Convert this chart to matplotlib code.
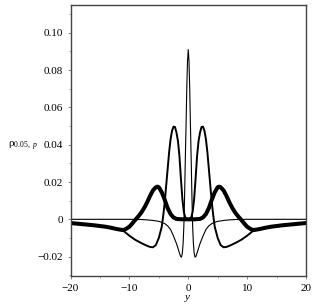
import matplotlib
matplotlib.use("Agg")
import matplotlib.pyplot as plt
from matplotlib.ticker import FixedLocator, FixedFormatter

# ---- data ----
y_spike = [-20, -18, -16, -14, -12, -10, -9, -8, -7, -6, -5, -4.5, -4, -3.5, -3, -2.5, -2,
           -1.75, -1.5, -1.3, -1.15, -1.0, -0.875, -0.75, -0.625, -0.5, -0.375, -0.25, -0.125, 0,
           0.125, 0.25, 0.375, 0.5, 0.625, 0.75, 0.875, 1.0, 1.15, 1.3, 1.5, 1.75,
           2, 2.5, 3, 3.5, 4, 4.5, 5, 6, 7, 8, 9, 10, 12, 14, 16, 18, 20]
v_spike = [0, 0, 0, 0, 0, 0, -0.0001, -0.0001, -0.0003, -0.0006, -0.0011, -0.0016, -0.0023, -0.0035,
           -0.0055, -0.009, -0.013, -0.0155, -0.018, -0.0199, -0.0203, -0.018, -0.013, -0.004, 0.012,
           0.032, 0.050, 0.070, 0.085, 0.091,
           0.085, 0.070, 0.050, 0.032, 0.012, -0.004, -0.013, -0.018, -0.0203, -0.0199, -0.018, -0.0155,
           -0.013, -0.009, -0.0055, -0.0035, -0.0023, -0.0016, -0.0011, -0.0006, -0.0003, -0.0001,
           -0.0001, 0, 0, 0, 0, 0, 0]

y_mid = [-20, -18, -16, -14, -12, -11, -10, -9, -8, -7, -6.5, -6, -5.5, -5, -4.5, -4.25, -4,
         -3.75, -3.5, -3.25, -3, -2.75, -2.5, -2.25, -2, -1.75, -1.5, -1.25, -1, -0.75, -0.5, -0.25, 0,
         0.25, 0.5, 0.75, 1, 1.25, 1.5, 1.75, 2, 2.25, 2.5, 2.75, 3, 3.25, 3.5, 3.75, 4, 4.25, 4.5,
         5, 5.5, 6, 6.5, 7, 8, 9, 10, 11, 12, 14, 16, 18, 20]
v_mid = [-0.0022, -0.0028, -0.0034, -0.0042, -0.0053, -0.0062, -0.0088, -0.011, -0.0127, -0.0142,
         -0.0148, -0.015, -0.0138, -0.010, -0.004, 0.002, 0.009, 0.018, 0.027, 0.036, 0.043, 0.0475,
         0.0497, 0.0495, 0.0465, 0.042, 0.034, 0.022, 0.011, 0.004, 0.001, 0.0002, 0.0,
         0.0002, 0.001, 0.004, 0.011, 0.022, 0.034, 0.042, 0.0465, 0.0495, 0.0497, 0.0475, 0.043,
         0.036, 0.027, 0.018, 0.009, 0.002, -0.004, -0.010, -0.0138, -0.015, -0.0148, -0.0142,
         -0.0127, -0.011, -0.0088, -0.0062, -0.0053, -0.0042, -0.0034, -0.0028, -0.0022]

y_thick = [-20, -18, -16, -14, -13, -12, -11, -10.5, -10, -9.5, -9, -8.5, -8, -7.5, -7, -6.5, -6,
           -5.5, -5.25, -5, -4.5, -4, -3.5, -3, -2.5, -2, -1, 0, 1, 2, 2.5, 3, 3.5, 4, 4.5, 5,
           5.25, 5.5, 6, 6.5, 7, 7.5, 8, 8.5, 9, 9.5, 10, 10.5, 11, 12, 13, 14, 16, 18, 20]
v_thick = [-0.002, -0.0026, -0.0032, -0.004, -0.0046, -0.0053, -0.0058, -0.005, -0.004, -0.0022,
           -0.0003, 0.0015, 0.0035, 0.006, 0.009, 0.0125, 0.0155, 0.0172, 0.0175, 0.0172, 0.0145,
           0.0105, 0.006, 0.0028, 0.001, 0.0002, 0.0, 0.0, 0.0, 0.0002, 0.001, 0.0028, 0.006,
           0.0105, 0.0145, 0.0172, 0.0175, 0.0172, 0.0155, 0.0125, 0.009, 0.006, 0.0035, 0.0015,
           -0.0003, -0.0022, -0.004, -0.005, -0.0058, -0.0053, -0.0046, -0.004, -0.0032, -0.0026,
           -0.002]

x_ticks = [-20, -10, 0, 10, 20]
x_labels = ["\u221220", "\u221210", "0", "10", "20"]
y_ticks = [-0.02, 0, 0.02, 0.04, 0.06, 0.08, 0.10]
y_labels = ["\u22120.02", "0", "0.02", "0.04", "0.06", "0.08", "0.10"]

plt.rcParams['font.family'] = ['Liberation Serif', 'DejaVu Serif']
plt.rcParams['mathtext.fontset'] = 'custom'
plt.rcParams['mathtext.rm'] = 'Liberation Serif'
plt.rcParams['mathtext.it'] = 'Liberation Serif:italic'

fig = plt.figure(figsize=(3.16, 3.07), dpi=100)
ax = fig.add_axes([70.5 / 316, 1 - 276 / 307, (306 - 70.5) / 316, (276 - 4.5) / 307])

ax.plot(y_spike, v_spike, color='black', lw=0.8)
ax.plot(y_mid, v_mid, color='black', lw=1.4)
ax.plot(y_thick, v_thick, color='black', lw=2.9)

ax.set_xlim(-20, 20)
ax.set_ylim(-0.0304, 0.1152)

ax.xaxis.set_major_locator(FixedLocator(x_ticks))
ax.xaxis.set_major_formatter(FixedFormatter(x_labels))
ax.yaxis.set_major_locator(FixedLocator(y_ticks))
ax.yaxis.set_major_formatter(FixedFormatter(y_labels))
ax.xaxis.set_minor_locator(FixedLocator([-15, -5, 5, 15]))
ax.yaxis.set_minor_locator(FixedLocator([-0.03, -0.01, 0.01, 0.03, 0.05, 0.07, 0.09, 0.11]))

ax.tick_params(which='major', direction='out', length=2.5, width=0.6, color='#777777',
               labelsize=8, pad=3)
ax.tick_params(which='minor', direction='out', length=1.5, width=0.6, color='#999999')
ax.tick_params(axis='y', which='major', pad=3)

for s in ax.spines.values():
    s.set_color('#444444')
    s.set_linewidth(1.0)

ax.set_xlabel(r'$y$', fontsize=8, labelpad=0)
fig.text(8 / 316, 1 - 146 / 307, r'$\mathrm{\rho}_{\mathrm{0.05,}\ p}$', fontsize=8,
         ha='left', va='center')

fig.savefig('out.png', dpi=100)
